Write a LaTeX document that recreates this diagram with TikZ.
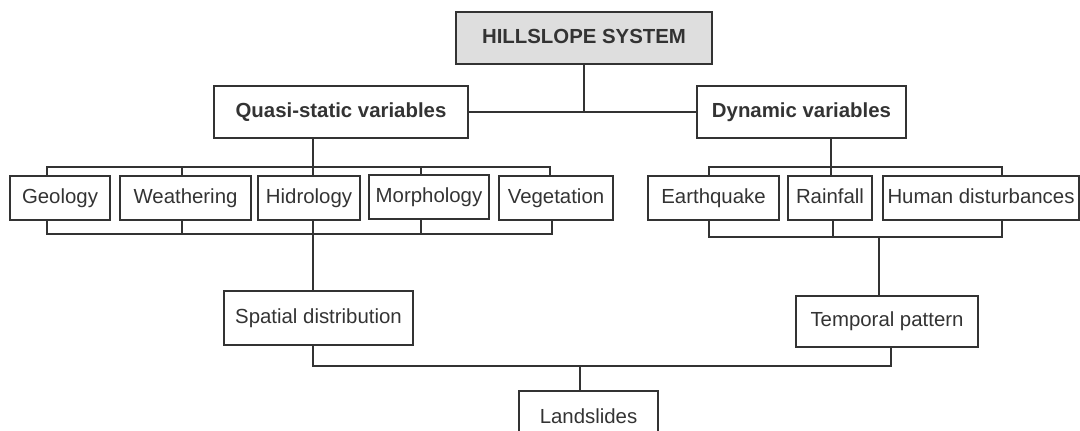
\documentclass[tikz,border=0pt]{standalone}
\usepackage{fontspec}
\setmainfont{Liberation Sans}
\definecolor{ink}{HTML}{333333}
\definecolor{boxgray}{HTML}{DEDEDE}
\tikzset{
  box/.style 2 args={draw=ink, line width=1.8pt, rectangle, inner sep=0pt, text=ink,
    minimum width=#1*0.025cm, minimum height=#2*0.025cm,
    text height=10.5pt, text depth=3pt, font=\fontsize{14.5}{17}\selectfont},
  link/.style={draw=ink, line width=1.8pt},
  thinlink/.style={draw=ink, line width=1.1pt},
}

\begin{document}
\begin{tikzpicture}[x=0.025cm,y=-0.025cm]
\useasboundingbox (0,0) rectangle (1080,430);
\clip (0,0) rectangle (1080,430);
% top level
\node[box={256}{52}, fill=boxgray, font=\fontsize{14.5}{17}\selectfont\bfseries] (sys) at (584,38) {HILLSLOPE SYSTEM};
\node[box={254}{52}, font=\fontsize{14.5}{17}\selectfont\bfseries] (quasi) at (341,112) {Quasi-static variables};
\node[box={209}{52}, font=\fontsize{14.5}{17}\selectfont\bfseries] (dyn) at (801.5,112) {Dynamic variables};
% quasi-static factors
\node[box={100}{44}] (geo) at (60,198) {Geology};
\node[box={131}{44}] (wea) at (185.5,198) {Weathering};
\node[box={102}{44}] (hid) at (309,198) {Hidrology};
\node[box={120}{44}] (mor) at (429,197) {Morphology};
\node[box={114}{44}] (veg) at (556,198) {Vegetation};
% dynamic factors
\node[box={131}{44}] (eq) at (713.5,198) {Earthquake};
\node[box={84}{44}] (rain) at (830,198) {Rainfall};
\node[box={196}{44}] (hum) at (981,198) {Human disturbances};
% outcomes
\node[box={189}{54}] (spa) at (318.5,318) {Spatial distribution};
\node[box={182}{51}] (tem) at (887,321.5) {Temporal pattern};
\node[box={139}{54}] (land) at (588.5,418) {Landslides};

% bus points
\coordinate (qa) at (47,167);  \coordinate (qb) at (182,167);
\coordinate (qc) at (313,167); \coordinate (qd) at (421,167);
\coordinate (qe) at (550,167);
\coordinate (pa) at (47,234);  \coordinate (pb) at (182,234);
\coordinate (pc) at (313,234); \coordinate (pd) at (421,234);
\coordinate (pe) at (552,234);
\coordinate (da) at (709,167); \coordinate (db) at (831,167);
\coordinate (dc) at (1002,167);
\coordinate (ea) at (709,237); \coordinate (eb) at (833,237);
\coordinate (ec) at (1002,237); \coordinate (ed) at (879,237);
\coordinate (sa) at (313,366); \coordinate (ta) at (891,366);
\coordinate (lb) at (580,366);

% system to variables
\draw[link] (sys.south) -- (sys.south |- quasi.east);
\draw[link] (quasi.east) -- (dyn.west);
% quasi-static tree
\draw[link] (qc |- quasi.south) -- (qc);
\draw[link] (qa |- geo.north) -- (qa) -- (qe) -- (qe |- veg.north);
\draw[thinlink] (qb) -- (qb |- wea.north);
\draw[thinlink] (qc) -- (qc |- hid.north);
\draw[thinlink] (qd) -- (qd |- mor.north);
\draw[link] (pa |- geo.south) -- (pa) -- (pe) -- (pe |- veg.south);
\draw[thinlink] (pb) -- (pb |- wea.south);
\draw[thinlink] (pc) -- (pc |- hid.south);
\draw[thinlink] (pd) -- (pd |- mor.south);
\draw[link] (pc) -- (pc |- spa.north);
% dynamic tree
\draw[link] (db |- dyn.south) -- (db);
\draw[link] (da |- eq.north) -- (da) -- (dc) -- (dc |- hum.north);
\draw[thinlink] (db) -- (db |- rain.north);
\draw[link] (ea |- eq.south) -- (ea) -- (ec) -- (ec |- hum.south);
\draw[thinlink] (eb) -- (eb |- rain.south);
\draw[link] (ed) -- (ed |- tem.north);
% to landslides
\draw[link] (sa |- spa.south) -- (sa) -- (ta) -- (ta |- tem.south);
\draw[link] (lb) -- (lb |- land.north);
\end{tikzpicture}
\end{document}
